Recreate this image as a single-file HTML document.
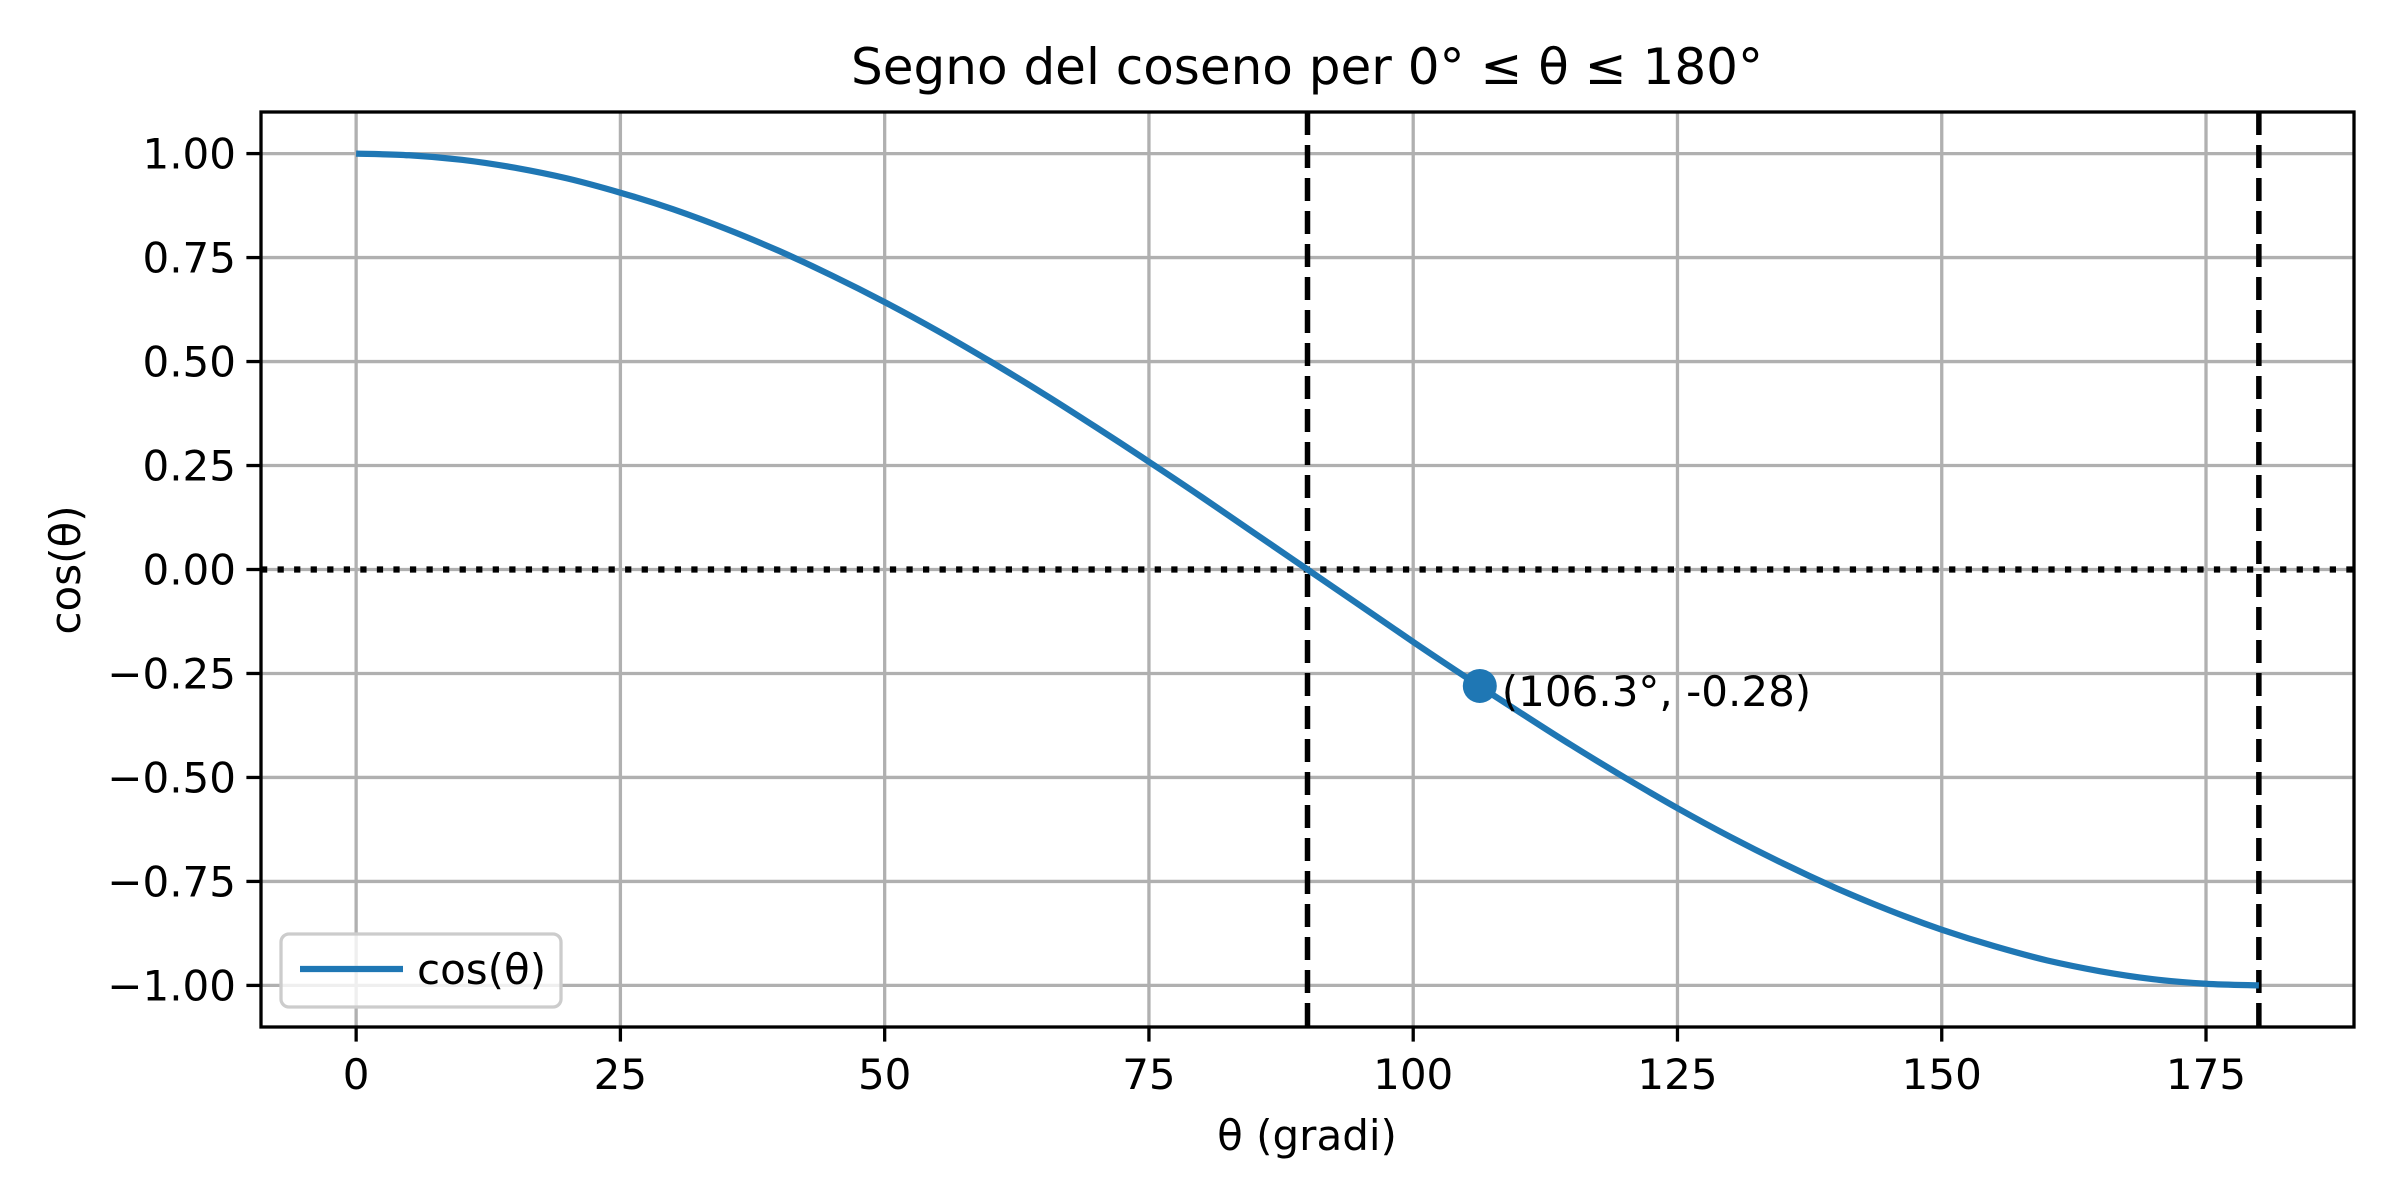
<!DOCTYPE html>
<html><head><meta charset="utf-8"><style>
html,body{margin:0;padding:0;background:#fff}
svg{display:block;font-family:"DejaVu Sans","Liberation Sans",sans-serif}
</style></head><body>
<svg id="chart" width="2400" height="1200" viewBox="0 0 2400 1200" xmlns="http://www.w3.org/2000/svg">
<rect width="2400" height="1200" fill="#fff"/>
<text x="1307" y="84" font-size="50" text-anchor="middle">Segno del coseno per 0° ≤ θ ≤ 180°</text>
<g id="grid"></g>
<g id="refs"></g>
<g id="series"></g>
<rect x="261" y="112" width="2093" height="915" fill="none" stroke="#000" stroke-width="3.3"/>
<g id="ticks"></g>
<text x="1307" y="1150" font-size="42" text-anchor="middle">θ (gradi)</text>
<text x="0" y="0" font-size="42" text-anchor="middle" transform="translate(80,570) rotate(-90)">cos(θ)</text>
<g>
<rect x="281" y="934" width="280" height="73" rx="8" fill="#fff" fill-opacity="0.8" stroke="#cccccc" stroke-width="3.3"/>
<line x1="300" y1="969" x2="403" y2="969" stroke="#1f77b4" stroke-width="6.25"/>
<text x="417" y="984" font-size="42">cos(θ)</text>
</g>
</svg>
<script>
const thetaDeg=[0,5,10,15,20,25,30,35,40,45,50,55,60,65,70,75,80,85,90,95,100,105,110,115,120,125,130,135,140,145,150,155,160,165,170,175,180];
const cosVals=[1,0.996,0.985,0.966,0.940,0.906,0.866,0.819,0.766,0.707,0.643,0.574,0.5,0.423,0.342,0.259,0.174,0.087,0,-0.087,-0.174,-0.259,-0.342,-0.423,-0.5,-0.574,-0.643,-0.707,-0.766,-0.819,-0.866,-0.906,-0.940,-0.966,-0.985,-0.996,-1];
const xTicks=[0,25,50,75,100,125,150,175];
const yTicks=[1,0.75,0.5,0.25,0,-0.25,-0.5,-0.75,-1];
const yTickLabels=["1.00","0.75","0.50","0.25","0.00","−0.25","−0.50","−0.75","−1.00"];
const vLines=[90,180];
const hLine=[0];
const pointX=[106.3];
const pointY=[-0.28];
const pointLabel=["(106.3°, -0.28)"];

const L=261,R=2354,T=112,B=1027,xmin=-9,xmax=189,ymin=-1.1,ymax=1.1;
const sx=v=>L+(v-xmin)/(xmax-xmin)*(R-L);
const sy=v=>B-(v-ymin)/(ymax-ymin)*(B-T);
const NS="http://www.w3.org/2000/svg";
function mk(tag,attrs,parent){const e=document.createElementNS(NS,tag);for(const k in attrs)e.setAttribute(k,attrs[k]);document.getElementById(parent).appendChild(e);return e;}

xTicks.forEach((t,i)=>{
  const g=mk('line',{x1:sx(t),x2:sx(t),y1:T,y2:B,stroke:'#b0b0b0','stroke-width':3.3},'grid');
  
  
  const tk=mk('line',{x1:sx(t),x2:sx(t),y1:B,y2:B+14.6,stroke:'#000','stroke-width':3.3},'ticks');
  
  
  const tx=mk('text',{x:sx(t),y:B+62,'font-size':42,'text-anchor':'middle'},'ticks');
  tx.textContent=String(t);
  
  
});
yTicks.forEach((t,i)=>{
  const g=mk('line',{x1:L,x2:R,y1:sy(t),y2:sy(t),stroke:'#b0b0b0','stroke-width':3.3},'grid');
  
  
  const tk=mk('line',{x1:L-14.6,x2:L,y1:sy(t),y2:sy(t),stroke:'#000','stroke-width':3.3},'ticks');
  
  
  const tx=mk('text',{x:L-25,y:sy(t)+15,'font-size':42,'text-anchor':'end'},'ticks');
  tx.textContent=yTickLabels[i];
  
  
});
hLine.forEach(v=>{
  const l=mk('line',{x1:L,x2:R,y1:sy(v),y2:sy(v),stroke:'#000','stroke-width':6.25,'stroke-dasharray':'6.25 10.3'},'refs');
  
  
});
vLines.forEach(v=>{
  const l=mk('line',{x1:sx(v),x2:sx(v),y1:T,y2:B,stroke:'#000','stroke-width':5.5,'stroke-dasharray':'23 10'},'refs');
  
  
});
const P=thetaDeg.map((t,i)=>[sx(t),sy(cosVals[i])]);
let d='M'+P[0][0].toFixed(1)+','+P[0][1].toFixed(1);
for(let i=0;i<P.length-1;i++){
  const p0=P[Math.max(0,i-1)],p1=P[i],p2=P[i+1],p3=P[Math.min(P.length-1,i+2)];
  const c1=[p1[0]+(p2[0]-p0[0])/6,p1[1]+(p2[1]-p0[1])/6];
  const c2=[p2[0]-(p3[0]-p1[0])/6,p2[1]-(p3[1]-p1[1])/6];
  d+=' C'+c1[0].toFixed(1)+','+c1[1].toFixed(1)+' '+c2[0].toFixed(1)+','+c2[1].toFixed(1)+' '+p2[0].toFixed(1)+','+p2[1].toFixed(1);
}
const pl=mk('path',{d:d,fill:'none',stroke:'#1f77b4','stroke-width':6.25,'stroke-linejoin':'round'},'series');


pointX.forEach((px,i)=>{
  const c=mk('circle',{cx:sx(px),cy:sy(pointY[i]),r:17,fill:'#1f77b4'},'series');
  
  
  const t=mk('text',{x:sx(px)+22,y:sy(pointY[i])+20,'font-size':42},'series');
  t.textContent=pointLabel[i];
  
  
});
</script>
</body></html>
